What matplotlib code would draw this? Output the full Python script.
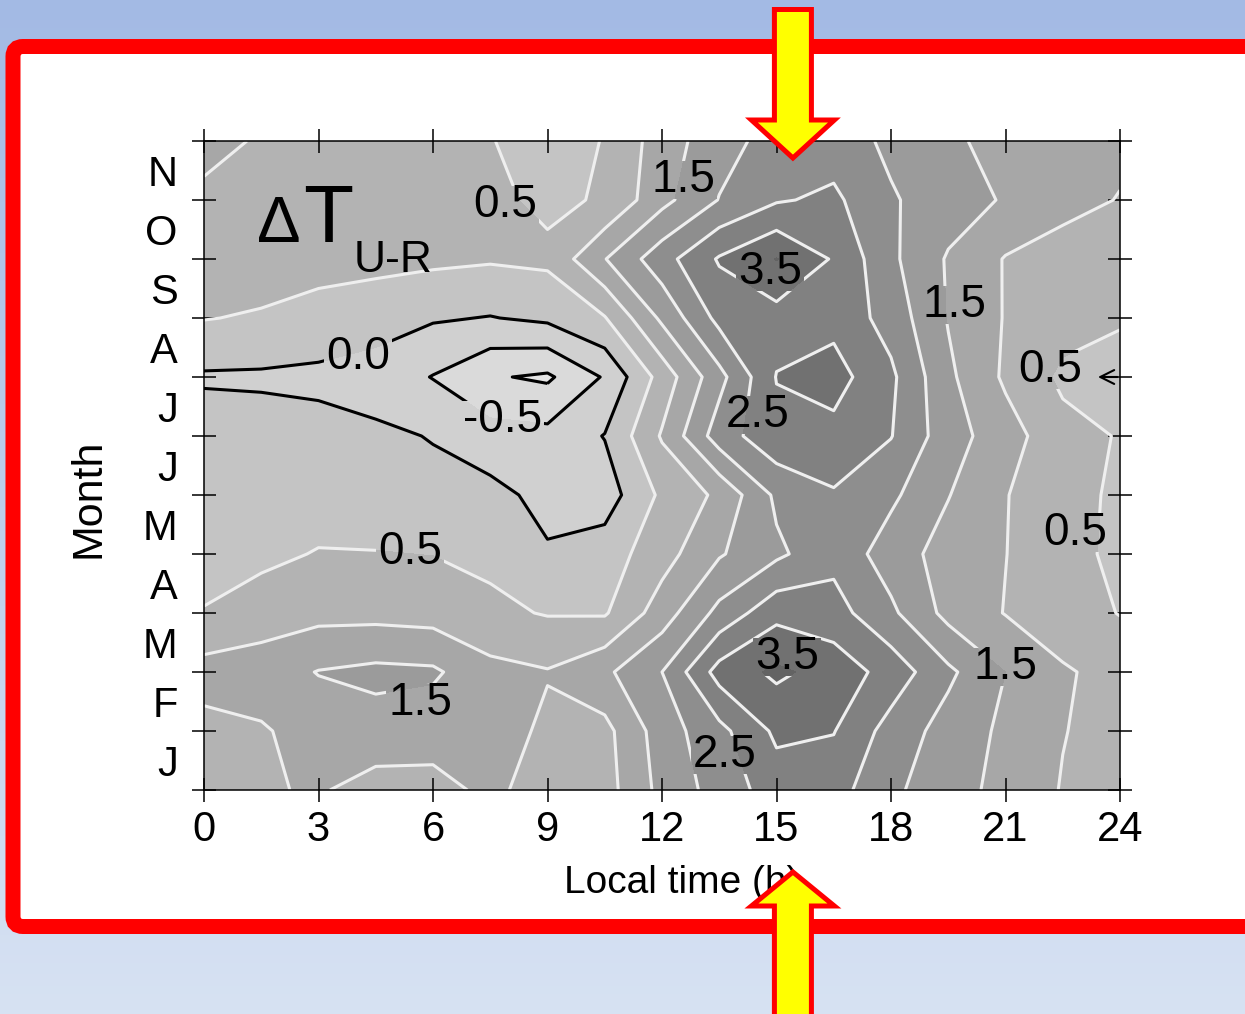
import numpy as np
import matplotlib.pyplot as plt
from matplotlib.colors import LinearSegmentedColormap
from matplotlib.patches import FancyBboxPatch, FancyArrow
from matplotlib.path import Path
from matplotlib.transforms import IdentityTransform

plt.rcParams['font.family'] = ['Liberation Sans', 'DejaVu Sans']

# grid: local time (h) and month boundaries
hours = [0, 1.5, 3, 4.5, 6, 7.5, 9, 10.5, 12, 13.5, 15, 16.5, 18, 19.5, 21, 22.5, 24]
month_edge = [0, 1, 2, 3, 4, 5, 6, 7, 8, 9, 10, 11]
month_names = ['J', 'F', 'M', 'A', 'M', 'J', 'J', 'A', 'S', 'O', 'N']
hour_ticks = [0, 3, 6, 9, 12, 15, 18, 21, 24]

# urban - rural temperature difference, rows from bottom (Jan) to top (Nov)
dT = [
    [0.80, 0.95, 1.05, 0.80, 0.85, 1.10, 0.80, 0.80, 1.65, 2.20, 2.75, 2.70, 2.10, 1.70, 1.35, 0.97, 0.85],
    [0.85, 0.95, 1.20, 1.30, 1.20, 1.25, 0.90, 0.85, 1.75, 2.35, 3.10, 3.02, 2.30, 1.80, 1.40, 1.02, 0.80],
    [1.20, 1.25, 1.52, 1.62, 1.58, 1.15, 1.03, 1.40, 2.00, 3.20, 3.60, 3.30, 2.80, 2.10, 1.50, 1.05, 0.85],
    [0.52, 0.75, 0.85, 0.85, 0.80, 0.60, 0.47, 0.45, 1.25, 2.15, 2.85, 2.70, 2.10, 1.35, 0.98, 0.75, 0.48],
    [0.35, 0.38, 0.53, 0.52, 0.49, 0.40, 0.05, 0.25, 0.80, 1.45, 1.90, 2.35, 1.75, 1.30, 1.01, 0.65, 0.40],
    [0.30, 0.30, 0.25, 0.20, 0.12, 0.15, -0.15, -0.25, 0.60, 1.10, 2.10, 2.45, 2.10, 1.52, 1.02, 0.70, 0.40],
    [0.25, 0.20, 0.15, 0.08, -0.02, -0.30, -0.35, 0.02, 1.05, 2.25, 2.85, 2.85, 2.52, 1.72, 1.21, 0.67, 0.47],
    [-0.06, -0.07, -0.10, -0.20, -0.52, -0.95, -1.08, -0.45, 0.70, 1.84, 3.02, 3.20, 2.60, 1.60, 0.92, 0.40, 0.30],
    [0.52, 0.45, 0.30, 0.20, 0.05, -0.02, 0.10, 0.47, 1.60, 2.65, 2.80, 2.85, 2.30, 1.47, 0.97, 0.70, 0.55],
    [0.75, 0.75, 0.70, 0.65, 0.60, 0.55, 0.60, 1.48, 2.30, 3.05, 3.52, 2.95, 2.10, 1.45, 0.97, 0.80, 0.70],
    [0.90, 0.85, 0.78, 0.75, 0.70, 0.60, 0.40, 0.55, 1.35, 2.02, 2.45, 2.60, 2.05, 1.75, 1.45, 1.15, 0.98],
    [1.15, 0.95, 0.85, 0.80, 0.75, 0.52, 0.30, 0.52, 1.25, 1.80, 2.20, 2.25, 1.90, 1.58, 1.35, 1.20, 1.10],
]

fill_levels = [-1.5, -1.0, -0.5, 0.0, 0.5, 1.0, 1.5, 2.0, 2.5, 3.0, 3.5, 4.0]
fill_colors = ['#e4e4e4', '#dadada', '#d0d0d0', '#c4c4c4', '#b3b3b3', '#a7a7a7',
               '#9b9b9b', '#8e8e8e', '#818181', '#717171', '#636363']
line_levels = [-1.0, -0.5, 0.0, 0.5, 1.0, 1.5, 2.0, 2.5, 3.0, 3.5]
line_colors = ['black' if v <= 0 else '#efefef' for v in line_levels]

# contour labels: (level, hour, month position)
labels = [
    (0.5, 7.89, 9.92), (1.5, 12.55, 10.34), (3.5, 14.83, 8.78), (1.5, 19.67, 8.22),
    (0.0, 4.03, 7.34), (0.5, 22.16, 7.12), (-0.5, 7.81, 6.27), (2.5, 14.51, 6.36),
    (0.5, 5.40, 4.03), (0.5, 22.82, 4.36), (3.5, 15.27, 2.25), (1.5, 20.99, 2.08),
    (1.5, 5.66, 1.47), (2.5, 13.65, 0.59),
]
arrow_hour = 15.43

fig = plt.figure(figsize=(12.45, 10.14), dpi=100)

# slide background and red frame, in pixel units
bg = fig.add_axes([0, 0, 1, 1], zorder=0)
bg.set_xlim(0, 1245)
bg.set_ylim(1014, 0)
bg.axis('off')
grad = np.linspace(0, 1, 256)[:, None]
bg_cmap = LinearSegmentedColormap.from_list('slide', ['#a3bae4', '#d7e2f3'])
bg.imshow(grad, cmap=bg_cmap, extent=(0, 1245, 1014, 0), aspect='auto')
bg.add_patch(FancyBboxPatch((13, 46.5), 1244, 880, boxstyle='round,pad=0,rounding_size=10',
                            fc='white', ec='#ff0000', lw=10.8))

ax = fig.add_axes([204 / 1245, 224 / 1014, 916 / 1245, 649 / 1014], zorder=2)
ax.contourf(hours, month_edge, dT, levels=fill_levels, colors=fill_colors)
cl = ax.contour(hours, month_edge, dT, levels=line_levels, colors=line_colors,
                linewidths=2.2, linestyles='solid', negative_linestyles='solid')

texts = []
for lev, h, m in labels:
    texts.append(ax.text(h, m, f'{lev:.1f}', ha='center', va='center', fontsize=33, zorder=4))

ax.text(0.058, 0.844, '\u0394', transform=ax.transAxes, fontsize=47, va='baseline')
ax.text(0.108, 0.844, 'T', transform=ax.transAxes, fontsize=59, va='baseline')
ax.text(0.163, 0.798, 'U-R', transform=ax.transAxes, fontsize=32, va='baseline')

ax.annotate('', xy=(23.35, 7), xytext=(24.0, 7),
            arrowprops=dict(arrowstyle='->,head_length=1.0,head_width=0.5', color='black', lw=1.5),
            annotation_clip=False)

ax.set_xlim(0, 24)
ax.set_ylim(0, 11)
ax.set_xticks(hour_ticks)
ax.set_yticks(month_edge)
ax.set_yticklabels([])
ax.set_yticks([m + 0.5 for m in month_edge[:-1]], minor=True)
ax.set_yticklabels(month_names, minor=True)
ax.tick_params(which='major', direction='inout', length=17, width=1.1,
               top=True, right=True, labelsize=30, pad=6)
ax.tick_params(axis='y', which='minor', length=0, pad=19, labelsize=30)
for s in ax.spines.values():
    s.set_linewidth(1.1)

ax.set_xlabel('Local time (h)', fontsize=28)
ax.xaxis.set_label_coords(0.521, -0.1156)
ax.set_ylabel('Month', fontsize=31)
ax.yaxis.set_label_coords(-0.104, 0.45)

# yellow arrows marking the afternoon peak
ov = fig.add_axes([0, 0, 1, 1], zorder=5)
ov.set_xlim(0, 1245)
ov.set_ylim(1014, 0)
ov.axis('off')
fig.canvas.draw()
ax_px = ax.transData.transform((arrow_hour, 0))[0]
ov.add_patch(FancyArrow(ax_px, 9.5, 0, 148.5, width=37, head_width=83, head_length=38,
                        length_includes_head=True, fc='#ffff00', ec='#ff0000', lw=3.6))
ov.add_patch(FancyArrow(ax_px, 1020, 0, -148, width=37, head_width=83, head_length=34,
                        length_includes_head=True, fc='#ffff00', ec='#ff0000', lw=3.6))

# cut the contour lines under the labels
verts, codes = [], []
x0, y0, x1, y1 = ax.bbox.x0 - 5, ax.bbox.y0 - 5, ax.bbox.x1 + 5, ax.bbox.y1 + 5
verts += [(x0, y0), (x1, y0), (x1, y1), (x0, y1), (x0, y0)]
codes += [Path.MOVETO, Path.LINETO, Path.LINETO, Path.LINETO, Path.CLOSEPOLY]
renderer = fig.canvas.get_renderer()
for t in texts:
    bb = t.get_window_extent(renderer)
    a0, b0, a1, b1 = bb.x0 - 2, bb.y0 + 3, bb.x1 + 2, bb.y1 - 3
    verts += [(a0, b0), (a0, b1), (a1, b1), (a1, b0), (a0, b0)]
    codes += [Path.MOVETO, Path.LINETO, Path.LINETO, Path.LINETO, Path.CLOSEPOLY]
cl.set_clip_path(Path(verts, codes), IdentityTransform())

fig.savefig('out.png', dpi=100)
